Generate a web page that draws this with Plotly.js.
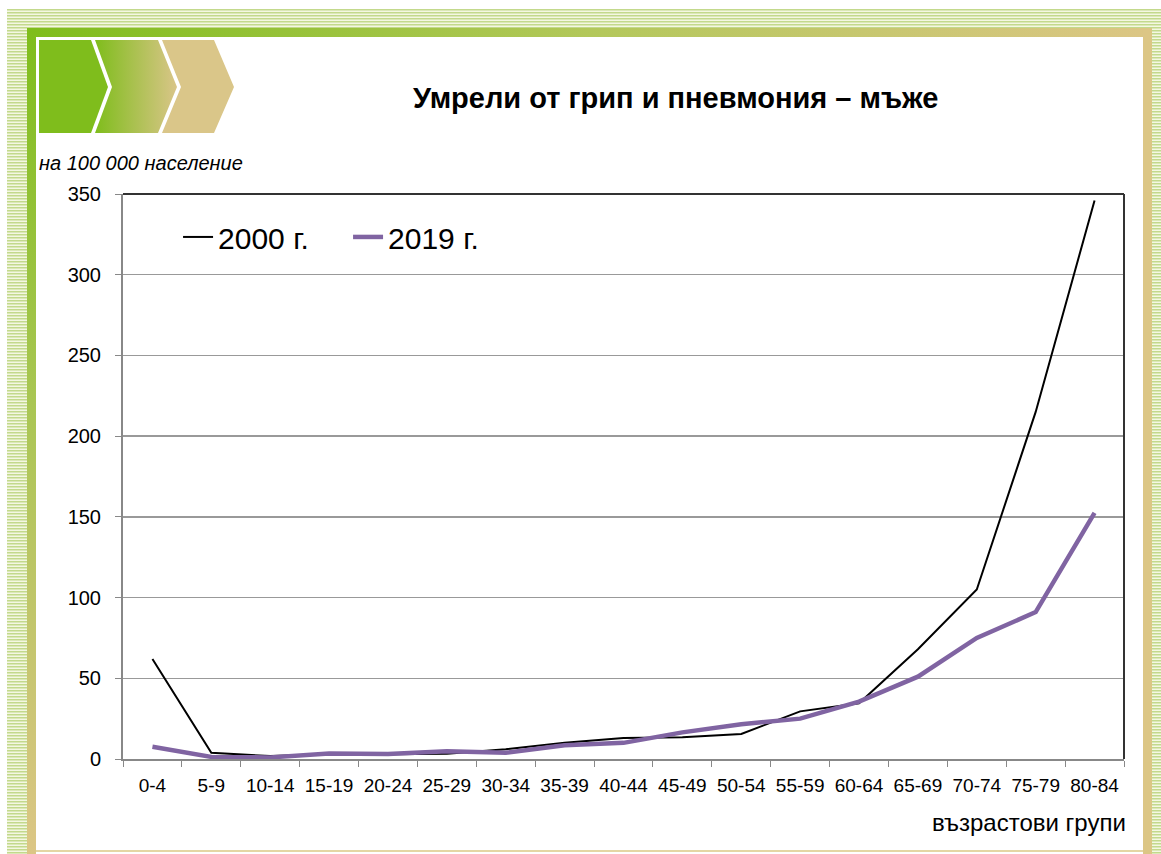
<!DOCTYPE html>
<html>
<head>
<meta charset="utf-8">
<script src="https://cdn.plot.ly/plotly-3.0.1.min.js"></script>
<style>
  html, body { margin:0; padding:0; background:#fff; }
  #wrap { position:relative; width:1161px; height:854px; overflow:hidden; }
  #deco { position:absolute; left:0; top:0; z-index:0; }
  #chart { position:absolute; left:0; top:0; width:1161px; height:854px; z-index:1; }
</style>
</head>
<body>
<div id="wrap">
<svg id="deco" width="1161" height="854" xmlns="http://www.w3.org/2000/svg">
  <defs>
    <pattern id="hstripe" width="8" height="3" patternUnits="userSpaceOnUse">
      <rect width="8" height="3" fill="#f4f7e2"/>
      <rect width="8" height="1.5" fill="#c3d98c"/>
    </pattern>
    <linearGradient id="topband" x1="0" y1="0" x2="1" y2="0">
      <stop offset="0" stop-color="#7fbd1c"/>
      <stop offset="0.5" stop-color="#b3c85a"/>
      <stop offset="1" stop-color="#dcc685"/>
    </linearGradient>
    <linearGradient id="leftband" x1="0" y1="0" x2="0" y2="1">
      <stop offset="0" stop-color="#7fbd1c"/>
      <stop offset="0.45" stop-color="#a9c653"/>
      <stop offset="1" stop-color="#dcc685"/>
    </linearGradient>
    <linearGradient id="chev2" x1="0" y1="0" x2="1" y2="0">
      <stop offset="0" stop-color="#7fbd1c"/>
      <stop offset="1" stop-color="#d9c588"/>
    </linearGradient>
  </defs>
  <rect x="7" y="9" width="1154" height="19" fill="url(#hstripe)"/>
  <rect x="7" y="9" width="20" height="845" fill="url(#hstripe)"/>
  <rect x="1152" y="28" width="9" height="826" fill="url(#hstripe)"/>
  <rect x="27" y="28" width="1125" height="9" fill="url(#topband)"/>
  <rect x="27" y="28" width="9" height="826" fill="url(#leftband)"/>
  <rect x="1143" y="28" width="9" height="826" fill="#dcc685"/>
  <rect x="36" y="37" width="1107" height="814" fill="#ffffff"/>
  <rect x="36" y="850" width="1107" height="2" fill="#e4d6a4"/>
  <polygon points="39,40 91,40 108,87 91,133 39,133" fill="#7fbd1c"/>
  <polygon points="95,40 158,40 177,87 158,133 95,133 112,87" fill="url(#chev2)"/>
  <polygon points="162,40 214,40 234,87 214,133 162,133 181,87" fill="#dac689"/>
</svg>
<div id="chart"></div>
</div>
<script>
const categories = ["0-4","5-9","10-14","15-19","20-24","25-29","30-34","35-39","40-44","45-49","50-54","55-59","60-64","65-69","70-74","75-79","80-84"];
const series2000 = [62, 3.9, 1.8, 3, 3, 3.3, 6, 10, 13, 13.5, 15.5, 29.5, 34.5, 68, 105, 215, 346];
const series2019 = [7.6, 1.3, 1, 3.4, 3.1, 4.8, 3.9, 8.5, 10, 16.5, 21.5, 25, 35.5, 51, 75, 91, 152.5];
const name2000 = "2000 г.";
const name2019 = "2019 г.";
const yTicks = [0, 50, 100, 150, 200, 250, 300, 350];

const traces = [
  { x: categories, y: series2000, name: name2000, type: "scatter", mode: "lines",
    line: { color: "#000000", width: 2 } },
  { x: categories, y: series2019, name: name2019, type: "scatter", mode: "lines",
    line: { color: "#8064a2", width: 4.5 } }
];

const layout = {
  width: 1161, height: 854,
  margin: { l: 123, r: 37, t: 194, b: 95 },
  paper_bgcolor: "rgba(0,0,0,0)",
  plot_bgcolor: "rgba(0,0,0,0)",
  font: { family: "Arial, 'Liberation Sans', sans-serif", color: "#000", size: 20 },
  title: { text: "<b>Умрели от грип и пневмония – мъже</b>", x: 0.582, xanchor: "center",
           y: 0.886, yanchor: "middle", yref: "container", font: { size: 29, color: "#000" } },
  showlegend: true,
  legend: { orientation: "h", x: 0.055, xanchor: "left", y: 0.924, yanchor: "middle",
            font: { size: 30 }, bgcolor: "rgba(0,0,0,0)", itemwidth: 30, entrywidth: 125 },
  xaxis: {
    type: "category", tickson: "boundaries", ticks: "outside", ticklen: 6, tickcolor: "#888",
    showline: true, linecolor: "#888", linewidth: 2, showgrid: false, zeroline: false,
    tickfont: { size: 19 }, tickangle: 0, range: [-0.5, 16.5], fixedrange: true, ticklabelstandoff: 8
  },
  yaxis: {
    range: [0, 350], tickvals: yTicks, ticks: "outside", ticklen: 6, tickcolor: "#888",
    showline: true, linecolor: "#888", linewidth: 2, showgrid: true, gridcolor: "#999",
    gridwidth: 1.5, zeroline: false, tickfont: { size: 20 }, ticklabelstandoff: 10, fixedrange: true
  },
  shapes: [
    { type: "line", xref: "paper", yref: "paper", x0: 0, x1: 1, y0: 1, y1: 1,
      line: { color: "#333", width: 2 } },
    { type: "line", xref: "paper", yref: "paper", x0: 1, x1: 1, y0: 0, y1: 1,
      line: { color: "#333", width: 2 } }
  ],
  annotations: [
    { text: "<i>на 100 000 население</i>", xref: "paper", yref: "paper",
      x: -0.0859, y: 1.055, xanchor: "left", yanchor: "middle", showarrow: false,
      font: { size: 20 } },
    { text: "възрастови групи", xref: "paper", yref: "paper",
      x: 1.004, y: -0.113, xanchor: "right", yanchor: "middle", showarrow: false,
      font: { size: 24 } }
  ]
};

Plotly.newPlot("chart", traces, layout, { displayModeBar: false, staticPlot: true });
</script>
</body>
</html>
